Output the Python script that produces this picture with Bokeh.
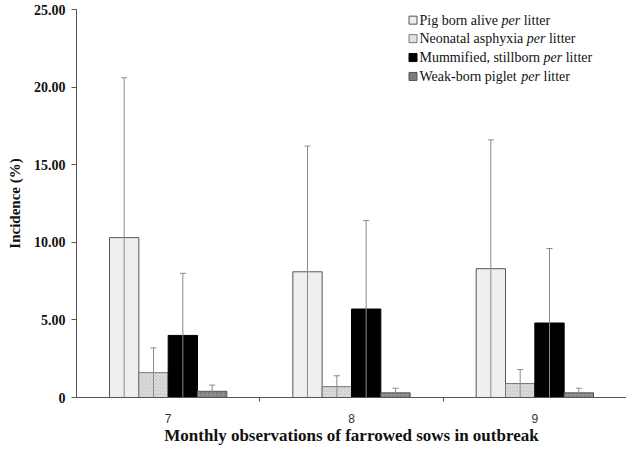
from bokeh.plotting import figure
from bokeh.models import (ColumnDataSource, Range1d, FixedTicker, Whisker, TeeHead)
from bokeh.core.properties import value
from bokeh.embed import file_html
from bokeh.resources import INLINE

# ---- data ----
months = ["7", "8", "9"]
series = ["Pig born alive", "Neonatal asphyxia", "Mummified, stillborn", "Weak-born piglet"]
alive = [10.3, 8.1, 8.3]
alive_sd = [10.3, 8.1, 8.3]
asphyxia = [1.6, 0.7, 0.9]
asphyxia_sd = [1.6, 0.7, 0.9]
mummified = [4.0, 5.7, 4.8]
mummified_sd = [4.0, 5.7, 4.8]
weak = [0.4, 0.3, 0.3]
weak_sd = [0.4, 0.3, 0.3]
y_ticks = [0, 5, 10, 15, 20, 25]
y_tick_labels = ["0", "5.00", "10.00", "15.00", "20.00", "25.00"]

values = [alive, asphyxia, mummified, weak]
sds = [alive_sd, asphyxia_sd, mummified_sd, weak_sd]

# ---- styles ----
offsets = [-0.24, -0.08, 0.08, 0.24]
bar_w = 0.16
styles = [
    dict(fill_color="#efefef", line_color="#555555", hatch_pattern=None),
    dict(fill_color="#e2e2e2", line_color="#777777", hatch_pattern="diagonal_cross",
         hatch_color="#b0b0b0", hatch_scale=3.5, hatch_weight=0.6),
    dict(fill_color="#000000", line_color="#000000", hatch_pattern=None),
    dict(fill_color="#7d7d7d", line_color="#555555", hatch_pattern="cross",
         hatch_color="#a5a5a5", hatch_scale=4, hatch_weight=0.6),
]

SERIF = "Liberation Serif"
W, H = 626, 447
BL, BT, BB, BR = 76, 9, 48, 0

p = figure(width=W, height=H, output_backend="svg", toolbar_location=None,
           x_range=Range1d(0, len(months)), y_range=Range1d(0, 25),
           min_border_left=BL, min_border_right=BR, min_border_top=BT, min_border_bottom=BB)
p.outline_line_color = None
p.xgrid.grid_line_color = None
p.ygrid.grid_line_color = None
p.background_fill_color = "white"

centers = [i + 0.5 for i in range(len(months))]

for k in range(len(series)):
    src = ColumnDataSource(dict(
        x=[c + offsets[k] for c in centers],
        top=values[k],
        upper=[v + s for v, s in zip(values[k], sds[k])],
        lower=[max(0.0, v - s) for v, s in zip(values[k], sds[k])],
    ))
    st = dict(styles[k])
    hp = st.pop("hatch_pattern")
    kw = dict(st)
    if hp:
        kw["hatch_pattern"] = hp
    p.vbar(x="x", top="top", bottom=0, width=bar_w, source=src, line_width=1, **kw)
    w = Whisker(source=src, base="x", upper="upper", lower="lower",
                line_color="#8a8a8a", line_width=1,
                upper_head=TeeHead(size=6, line_color="#8a8a8a", line_width=1),
                lower_head=None, level="overlay")
    p.add_layout(w)

# ---- axes ----
xa = p.xaxis[0]
xa.ticker = FixedTicker(ticks=centers, minor_ticks=list(range(1, len(months))))
xa.major_label_overrides = {c: m for c, m in zip(centers, months)}
xa.major_tick_line_color = None
xa.major_tick_out = 0
xa.major_tick_in = 0
xa.minor_tick_out = 4
xa.minor_tick_in = 0
xa.minor_tick_line_color = "#555555"
xa.axis_line_color = "#555555"
xa.major_label_text_font = "Liberation Sans"
xa.major_label_text_font_size = "12px"
xa.major_label_text_color = "#333333"
xa.major_label_standoff = 12
xa.axis_label = "Monthly observations of farrowed sows in outbreak"
xa.axis_label_text_font = SERIF
xa.axis_label_text_font_style = "bold"
xa.axis_label_text_font_size = "17px"
xa.axis_label_text_color = "#111111"
xa.axis_label_standoff = 0

ya = p.yaxis[0]
ya.ticker = FixedTicker(ticks=y_ticks, minor_ticks=[])
ya.major_label_overrides = {t: l for t, l in zip(y_ticks, y_tick_labels)}
ya.major_tick_out = 5
ya.major_tick_in = 0
ya.major_tick_line_color = "#555555"
ya.axis_line_color = "#555555"
ya.major_label_text_font = SERIF
ya.major_label_text_font_style = "bold"
ya.major_label_text_font_size = "14px"
ya.major_label_text_color = "#111111"
ya.major_label_standoff = 6
ya.axis_label = "Incidence (%)"
ya.axis_label_text_font = SERIF
ya.axis_label_text_font_style = "bold"
ya.axis_label_text_font_size = "15px"
ya.axis_label_text_color = "#111111"
ya.axis_label_standoff = 8

# ---- legend (manual, to allow italic "per") ----
TIMES = {"P": 556, "i": 278, "g": 500, " ": 250, "b": 500, "o": 500, "r": 333, "n": 500,
         "a": 444, "l": 278, "v": 500, "e": 444, "N": 722, "t": 278, "s": 389, "p": 500,
         "h": 500, "y": 500, "x": 500, "M": 889, "u": 500, "m": 778, "f": 333, "d": 500,
         ",": 250, "W": 944, "k": 500, "-": 333}
ITAL = {"p": 500, "e": 444, "r": 389, " ": 250}
FS = 14


def tw(s, table):
    return sum(table.get(ch, 500) for ch in s) * FS / 1000.0


# frame size in pixels (for converting legend pixel offsets to data units)
frame_w = W - BL - BR
frame_h = H - BT - BB
def dx(px):
    return px * len(months) / frame_w
def dy(py):
    return py * 25 / frame_h

# legend anchored relative to frame top-left (pixels from frame left / top)
sq_off = 407 + 4.5 - 75
txt_off = 418 - 75
row_off = [21.7 - 11, 40.3 - 11, 59.3 - 11, 78.3 - 11]

sq_src = ColumnDataSource(dict(
    x=[dx(sq_off)] * 4,
    y=[25 - dy(r) for r in row_off],
    fill=[s["fill_color"] for s in styles],
    line=[s["line_color"] for s in styles],
))
p.rect(x="x", y="y", width=8, height=8, width_units="screen", height_units="screen",
       fill_color="fill", line_color="line", source=sq_src)

t1_x, t1_y, t1 = [], [], []
t2_x, t2_y, t3_x, t3_y, t3 = [], [], [], [], []
for name, r in zip(series, row_off):
    yy = 25 - dy(r)
    x1 = dx(txt_off)
    t1_x.append(x1); t1_y.append(yy); t1.append(name)
    x2 = x1 + dx(tw(name + " ", TIMES))
    t2_x.append(x2); t2_y.append(yy)
    x3 = x2 + dx(tw("per ", ITAL))
    t3_x.append(x3); t3_y.append(yy); t3.append("litter")

common = dict(text_font=value(SERIF), text_font_size=value(f"{FS}px"),
              text_color="#111111", text_baseline="middle", text_align="left")
p.text(x=t1_x, y=t1_y, text=t1, **common)
p.text(x=t2_x, y=t2_y, text=["per"] * 4, text_font_style="italic", **common)
p.text(x=t3_x, y=t3_y, text=t3, **common)

open("out.html", "w").write(file_html(p, INLINE))
